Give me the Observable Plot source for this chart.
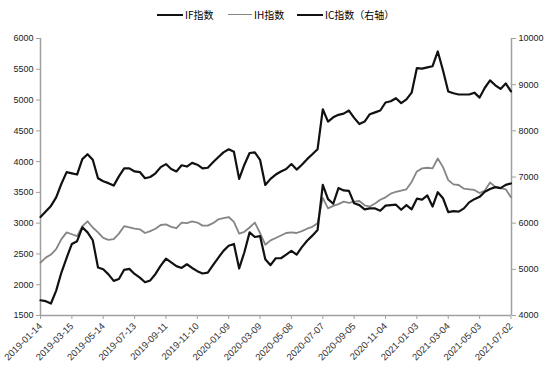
<!DOCTYPE html>
<html><head><meta charset="utf-8">
<script src="https://cdn.jsdelivr.net/npm/d3@7"></script>
<script src="https://cdn.jsdelivr.net/npm/@observablehq/plot@0.6"></script>
<style>
body{margin:0;background:#fff;width:550px;height:369px;overflow:hidden;font-family:"Liberation Sans",Arial,sans-serif}
#legend{position:relative;height:30px;width:550px;font-family:"Noto Sans CJK SC",sans-serif;font-size:10px;color:#000}
.sw{position:absolute;top:14px;height:0;border-top-style:solid}
.lb{position:absolute;top:8px;line-height:14px;white-space:nowrap}
</style></head><body>
<div id="legend"></div>
<div id="chart"></div>
<script>
const dates = ["2019-01-14","2019-01-24","2019-02-03","2019-02-13","2019-02-23","2019-03-05","2019-03-15","2019-03-25","2019-04-04","2019-04-14","2019-04-24","2019-05-04","2019-05-14","2019-05-24","2019-06-03","2019-06-13","2019-06-23","2019-07-03","2019-07-13","2019-07-23","2019-08-02","2019-08-12","2019-08-22","2019-09-01","2019-09-11","2019-09-21","2019-10-01","2019-10-11","2019-10-21","2019-10-31","2019-11-10","2019-11-20","2019-11-30","2019-12-10","2019-12-20","2019-12-30","2020-01-09","2020-01-19","2020-01-29","2020-02-08","2020-02-18","2020-02-28","2020-03-09","2020-03-19","2020-03-29","2020-04-08","2020-04-18","2020-04-28","2020-05-08","2020-05-18","2020-05-28","2020-06-07","2020-06-17","2020-06-27","2020-07-07","2020-07-17","2020-07-27","2020-08-06","2020-08-16","2020-08-26","2020-09-05","2020-09-15","2020-09-25","2020-10-05","2020-10-15","2020-10-25","2020-11-04","2020-11-14","2020-11-24","2020-12-04","2020-12-14","2020-12-24","2021-01-03","2021-01-13","2021-01-23","2021-02-02","2021-02-12","2021-02-22","2021-03-04","2021-03-14","2021-03-24","2021-04-03","2021-04-13","2021-04-23","2021-05-03","2021-05-13","2021-05-23","2021-06-02","2021-06-12","2021-06-22","2021-07-02"];
const ifValues = [3100,3190,3280,3420,3640,3830,3810,3790,4040,4120,4030,3730,3680,3650,3610,3760,3890,3890,3840,3830,3730,3750,3810,3910,3960,3880,3840,3940,3920,3980,3950,3890,3900,3990,4070,4150,4200,4160,3720,3950,4140,4150,4030,3620,3720,3790,3840,3880,3960,3870,3950,4040,4120,4200,4850,4650,4720,4760,4780,4830,4710,4610,4650,4770,4800,4830,4960,4980,5030,4950,5010,5120,5520,5510,5530,5550,5790,5480,5140,5110,5090,5090,5090,5120,5040,5200,5320,5240,5180,5270,5140];
const ihValues = [2360,2440,2490,2580,2740,2850,2820,2790,2950,3030,2930,2850,2760,2730,2740,2830,2950,2930,2910,2900,2840,2870,2910,2970,2980,2940,2920,3010,3000,3030,3010,2960,2960,3000,3060,3080,3100,3020,2830,2860,2930,3010,2840,2650,2720,2760,2800,2840,2850,2840,2870,2910,2940,3000,3410,3240,3280,3310,3350,3330,3350,3360,3290,3270,3320,3380,3420,3480,3510,3530,3550,3670,3840,3890,3900,3890,4050,3910,3700,3630,3620,3560,3550,3540,3490,3530,3660,3590,3570,3550,3420];
const icValues = [4330,4310,4260,4540,4930,5250,5550,5610,5910,5800,5630,5040,5000,4890,4750,4790,4990,5010,4900,4820,4720,4760,4900,5080,5230,5150,5070,5030,5110,5030,4960,4910,4930,5090,5250,5400,5510,5550,5020,5370,5800,5700,5720,5220,5090,5240,5240,5320,5400,5320,5480,5620,5730,5850,6830,6520,6420,6760,6710,6700,6430,6390,6300,6320,6320,6270,6380,6390,6400,6290,6390,6300,6530,6510,6600,6360,6670,6540,6240,6260,6250,6320,6450,6520,6570,6680,6740,6780,6760,6830,6860];
const seriesNames = ["IF指数","IH指数","IC指数（右轴）"];
const leftTicks = [1500,2000,2500,3000,3500,4000,4500,5000,5500,6000];
const rightTicks = [4000,5000,6000,7000,8000,9000,10000];
const xTickLabels = ["2019-01-14","2019-03-15","2019-05-14","2019-07-13","2019-09-11","2019-11-10","2020-01-09","2020-03-09","2020-05-08","2020-07-07","2020-09-05","2020-11-04","2021-01-03","2021-03-04","2021-05-03","2021-07-02"];
const xEnd = "2021-07-03";

const parse = d3.utcParse("%Y-%m-%d");
const fmt = d3.utcFormat("%Y-%m-%d");
const leftDomain = [leftTicks[0], leftTicks[leftTicks.length-1]];
const rightDomain = [rightTicks[0], rightTicks[rightTicks.length-1]];
const k = (leftDomain[1]-leftDomain[0])/(rightDomain[1]-rightDomain[0]);
const toLeft = v => leftDomain[0] + (v - rightDomain[0]) * k;
const toRight = v => Math.round(rightDomain[0] + (v - leftDomain[0]) / k);

const rowsOf = (vals, name, map) => vals.map((v,i) => ({date: parse(dates[i]), value: map ? map(v) : v, name}));
const ifRows = rowsOf(ifValues, seriesNames[0]);
const ihRows = rowsOf(ihValues, seriesNames[1]);
const icRows = rowsOf(icValues, seriesNames[2], toLeft);

const x0 = parse(dates[0]), x1 = parse(xEnd);
const axisGray = "#a0a0a0";

const chart = Plot.plot({
  width: 550, height: 339,
  marginLeft: 40, marginRight: 39, marginTop: 8, marginBottom: 54,
  style: {fontFamily: "'Liberation Sans', Arial, sans-serif", fontSize: "9px", background: "#fff", overflow: "visible"},
  x: {type: "utc", domain: [x0, x1]},
  y: {domain: leftDomain},
  marks: [
    Plot.axisY(leftTicks, {anchor: "left", tickSize: 4, tickPadding: 3, stroke: axisGray, fill: "#222", fontSize: 9, label: null, tickFormat: d => String(d)}),
    Plot.axisY(rightTicks.map(toLeft), {anchor: "right", tickSize: 4, tickPadding: 3, stroke: axisGray, fill: "#222", fontSize: 9, label: null, tickFormat: d => String(toRight(d))}),
    Plot.axisX(xTickLabels.map(parse), {tickRotate: -45, tickSize: 4, tickPadding: 5, stroke: axisGray, fill: "#333", fontSize: 9.5, label: null, tickFormat: fmt}),
    Plot.ruleY([leftDomain[0]], {stroke: axisGray, strokeWidth: 1.5}),
    Plot.ruleX([x0, x1], {stroke: axisGray, strokeWidth: 1.5}),
    Plot.line(ihRows, {x: "date", y: "value", stroke: "#858585", strokeWidth: 1.8, strokeLinejoin: "round"}),
    Plot.line(icRows, {x: "date", y: "value", stroke: "#111", strokeWidth: 2.2, strokeLinejoin: "round"}),
    Plot.line(ifRows, {x: "date", y: "value", stroke: "#111", strokeWidth: 2.2, strokeLinejoin: "round"})
  ]
});
document.getElementById("chart").appendChild(chart);

// legend
const legendItems = [
  {name: seriesNames[0], color: "#111", w: 2.5, x: 157, len: 26},
  {name: seriesNames[1], color: "#858585", w: 1.5, x: 228, len: 24},
  {name: seriesNames[2], color: "#111", w: 2.5, x: 297, len: 26}
];
const lg = document.getElementById("legend");
legendItems.forEach(it => {
  const s = document.createElement("div");
  s.className = "sw";
  s.style.left = it.x + "px"; s.style.width = it.len + "px";
  s.style.borderTopWidth = it.w + "px"; s.style.borderTopColor = it.color;
  s.style.top = (15 - it.w/2) + "px";
  lg.appendChild(s);
  const t = document.createElement("div");
  t.className = "lb";
  t.style.left = (it.x + it.len + 2) + "px";
  t.textContent = it.name;
  lg.appendChild(t);
});
</script>
</body></html>
